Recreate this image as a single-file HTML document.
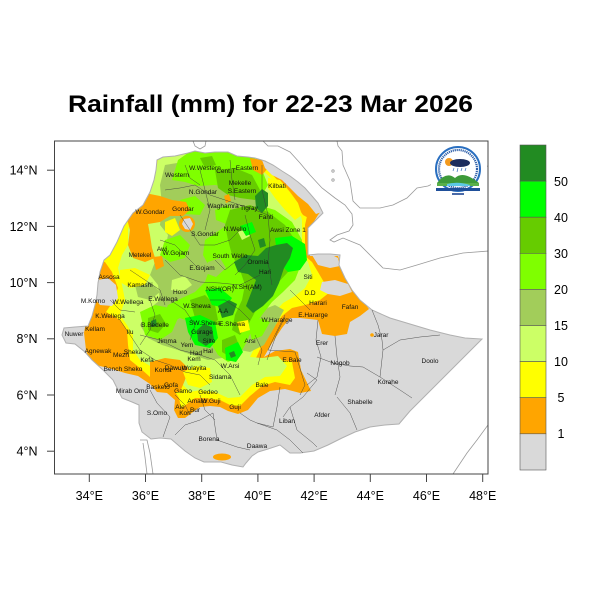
<!DOCTYPE html>
<html><head><meta charset="utf-8"><style>
html,body{margin:0;padding:0;background:#fff;}
svg{display:block;font-family:"Liberation Sans",Arial,sans-serif;}
.zl{font-size:6.5px;fill:#111;text-anchor:middle;}
.ax{font-size:12.5px;fill:#000;}
</style></head><body>
<svg width="600" height="600" viewBox="0 0 600 600" xmlns="http://www.w3.org/2000/svg">
<defs>
<clipPath id="eth"><path d="M157,160 L163,157 175,156 188,153 195,151 205,153 215,152 228,152 237,156 248,157 255,158 265,161 273,165 282,171 290,176 298,182 305,188 312,196 318,203 323,213 316,220 308,228 308,255 318,254 330,254 340,255 339,265 345,278 352,290 360,300 372,310 390,318 410,324 430,330 450,335 465,338 482,339 470,351 455,366 440,381 425,396 410,411 399,424 385,425 370,427 355,432 342,438 328,445 314,451 300,453 290,453 280,445 268,449 258,452 252,456 246,463 243,467 232,465 221,462 204,462 195,458 185,451 171,439 160,438 151,439 142,432 139,423 139,405 132,402 122,398 118,390 113,380 103,370 92,360 85,352 75,344 66,343 62,335 64,328 75,327 88,326 92,316 95,305 97,295 98,283 100,272 104,260 110,255 117,242 124,226 133,213 143,205 150,192 154,180 156,170 Z"/></clipPath>
<clipPath id="frame"><rect x="54.5" y="141" width="433.5" height="333"/></clipPath>
</defs>
<rect width="600" height="600" fill="#fff"/>

<text x="68" y="112" font-size="24" font-weight="bold" textLength="405" lengthAdjust="spacingAndGlyphs" fill="#000">Rainfall (mm) for 22-23 Mar 2026</text>

<!-- other country lines -->
<g clip-path="url(#frame)" fill="none" stroke="#9a9a9a" stroke-width="0.8">
<polyline points="337,141 338,146 342,151 343,165 350,181 353,201 360,208 380,208 393,205 407,198 417,188 428,186 445,178 465,171 488,166"/>
<polyline points="263,141 268,146 278,146 290,152 300,163 310,175 322,188 335,198 345,205 352,214 353,225 349,231 337,235 330,240 334,242 343,238 360,245 373,258 383,268 400,270 417,265 440,258 463,253 489,251"/>
<polyline points="193,141 195,146 200,149 205,146 206,141"/>
<polyline points="140,440 147,440 150,453 153,474"/>
<polyline points="143,443 145,457 147,474"/>
<polyline points="488,425 477,440 467,453 453,474"/>
<circle cx="333" cy="171" r="1.2"/><circle cx="333" cy="180" r="1.2"/>
</g>

<!-- map data -->
<path d="M157,160 L163,157 175,156 188,153 195,151 205,153 215,152 228,152 237,156 248,157 255,158 265,161 273,165 282,171 290,176 298,182 305,188 312,196 318,203 323,213 316,220 308,228 308,255 318,254 330,254 340,255 339,265 345,278 352,290 360,300 372,310 390,318 410,324 430,330 450,335 465,338 482,339 470,351 455,366 440,381 425,396 410,411 399,424 385,425 370,427 355,432 342,438 328,445 314,451 300,453 290,453 280,445 268,449 258,452 252,456 246,463 243,467 232,465 221,462 204,462 195,458 185,451 171,439 160,438 151,439 142,432 139,423 139,405 132,402 122,398 118,390 113,380 103,370 92,360 85,352 75,344 66,343 62,335 64,328 75,327 88,326 92,316 95,305 97,295 98,283 100,272 104,260 110,255 117,242 124,226 133,213 143,205 150,192 154,180 156,170 Z" fill="#D9D9D9"/>
<g clip-path="url(#eth)">
<!-- orange -->
<polygon fill="#FFA500" points="90,150 330,150 330,200 318,215 310,228 310,256 338,256 345,278 352,290 362,300 369,309 360,316 350,322 347,334 335,336 322,334 318,320 300,318 290,318 282,328 272,343 264,357 275,351 290,349 298,352 301,370 311,391 300,393 285,389 270,391 258,398 248,410 238,414 228,411 220,407 210,406 200,407 193,412 185,418 178,418 174,410 175,400 167,393 157,392 150,384 138,376 125,373 112,369 100,366 90,363 86,350 84,333 86,322 92,313 96,303 90,290"/>
<ellipse cx="222" cy="457" rx="9" ry="3.5" fill="#FFA500"/>
<circle cx="372" cy="335" r="1.8" fill="#FFA500"/>
<!-- yellow -->
<polygon fill="#FFFF00" points="90,150 262,150 262,165 270,172 280,183 292,193 300,202 308,212 305,225 305,256 312,262 318,272 325,284 330,292 320,300 305,305 292,308 282,316 272,330 262,345 256,358 265,362 280,360 292,362 295,378 290,385 275,382 262,386 250,396 240,406 230,405 220,400 205,398 195,398 187,404 181,408 179,398 172,387 160,384 150,377 140,368 130,360 128,345 127,330 120,320 106,312 112,303 118,288 112,272 105,262 90,262"/>
<!-- light green -->
<polygon fill="#CCFF66" points="160,150 262,150 262,170 275,182 288,195 298,205 302,220 302,256 308,262 312,275 305,288 295,296 283,303 272,315 264,330 256,345 250,357 262,358 278,356 287,366 280,376 265,377 252,385 240,397 228,398 215,392 200,390 190,392 183,385 175,378 165,374 152,367 140,360 133,350 133,335 127,325 120,315 125,300 122,285 118,268 122,255 128,245 128,230 132,215 140,205 148,190 155,175"/>
<!-- olive -->
<polygon fill="#A2CD5A" points="165,165 195,160 225,160 250,165 258,180 262,200 268,220 272,245 268,270 260,290 250,308 240,325 232,345 222,358 208,360 192,355 178,350 162,345 148,338 140,325 148,310 160,300 158,285 150,275 155,262 165,250 168,235 160,225 162,205 160,185"/>
<polygon fill="#A2CD5A" points="245,318 262,310 275,305 284,310 274,328 264,345 250,352 240,350"/>
<polygon fill="#A2CD5A" points="270,215 288,222 298,232 300,245 290,250 278,240"/>
<polygon fill="#A2CD5A" points="135,285 150,282 160,292 150,300 138,297"/>
<!-- bright green -->
<polygon fill="#7FFF00" points="178,160 195,148 225,148 250,150 262,170 268,185 262,195 248,195 232,188 215,185 198,186 185,182 172,180"/>
<polygon fill="#7FFF00" points="205,240 220,230 240,215 258,205 275,210 292,222 302,240 302,262 295,280 283,292 272,302 262,315 252,330 245,345 238,358 228,362 218,355 212,345 200,330 190,322 180,318 172,322 162,318 168,305 182,298 195,292 205,282 210,268 203,255"/>
<polygon fill="#7FFF00" points="165,240 180,235 190,245 185,258 170,262 160,255"/>
<polygon fill="#7FFF00" points="140,312 155,305 170,308 178,318 172,332 160,340 145,335"/>
<polygon fill="#7FFF00" points="248,325 262,318 270,322 262,336 252,340"/>
<polygon fill="#7FFF00" points="180,200 195,196 205,205 200,215 186,214"/>
<polygon fill="#7FFF00" points="215,210 228,205 235,215 226,224 216,220"/>
<!-- mid green -->
<polygon fill="#66CC00" points="215,170 235,168 252,175 260,190 255,200 240,198 228,195 218,188"/>
<polygon fill="#66CC00" points="230,210 250,205 268,212 285,225 295,240 296,258 288,272 276,285 265,298 255,312 248,325 240,335 232,330 235,315 242,300 245,285 240,270 232,255 228,240 225,225"/>
<polygon fill="#66CC00" points="190,300 205,295 215,305 218,320 210,325 195,318"/>
<polygon fill="#66CC00" points="222,340 235,335 240,348 232,358 222,352"/>
<polygon fill="#66CC00" points="148,318 160,314 166,324 158,333 148,330"/>
<polygon fill="#66CC00" points="200,158 212,156 216,165 205,168"/>
<!-- light patches -->
<polygon fill="#A2CD5A" points="208,262 220,258 226,268 216,277 205,273"/>
<polygon fill="#CCFF66" points="172,280 185,276 192,285 182,292 171,290"/>
<polygon fill="#CCFF66" points="238,232 246,228 250,236 242,240"/>
<!-- pure green -->
<polygon fill="#00FF00" points="275,238 292,236 305,244 307,260 300,270 288,272 278,262"/>
<polygon fill="#00FF00" points="185,318 200,315 215,322 218,338 210,348 195,345 188,332"/>
<polygon fill="#00FF00" points="225,348 238,342 243,352 236,362 226,360"/>
<polygon fill="#00FF00" points="205,290 220,288 232,298 225,308 212,305"/>
<polygon fill="#00FF00" points="240,226 252,222 256,232 246,236"/>
<!-- dark green -->
<polygon fill="#228B22" points="234,262 246,255 258,256 266,248 276,245 287,243 293,248 290,258 284,268 279,283 273,296 263,306 253,313 246,306 251,293 256,280 248,274 238,272"/>
<polygon fill="#228B22" points="255,196 262,189 268,193 268,206 262,213 256,208"/>
<polygon fill="#228B22" points="218,306 229,300 237,304 233,315 222,318"/>
<polygon fill="#228B22" points="197,330 204,324 212,327 214,340 206,346 198,341"/>
<polygon fill="#228B22" points="229,353 234,351 236,356 231,358"/>
<polygon fill="#228B22" points="258,240 264,238 266,246 260,248"/>
<polygon fill="#228B22" points="151,321 156,319 157,326 151,327"/>
<!-- interior orange -->
<polygon fill="#FFA500" points="128,196 145,193 160,196 172,200 186,202 190,210 183,216 170,216 160,222 148,224 150,235 152,248 155,258 145,262 133,258 128,245 130,230 126,215"/>
<ellipse cx="187" cy="224" rx="8" ry="8" fill="#FFA500"/>
<polygon fill="#FFA500" points="285,176 295,183 305,192 315,200 320,212 312,220 303,215 296,205 288,195 282,185"/>
<polygon fill="#FFA500" points="250,158 262,160 268,168 262,175 253,170"/>
<polygon fill="#FFA500" points="224,196 229,194 231,201 226,203"/>
<polygon fill="#FFA500" points="153,257 162,256 164,266 156,270"/>
<polygon fill="#FFA500" points="150,362 165,358 180,360 188,368 185,380 180,392 170,392 160,388 150,380"/>
<!-- interior yellow -->
<polygon fill="#FFFF00" points="268,178 280,180 290,192 298,203 302,215 295,220 285,210 275,198 268,188"/>
<polygon fill="#FFFF00" points="165,222 175,218 180,230 172,236 165,232"/>
<polygon fill="#FFFF00" points="120,270 135,268 150,275 145,285 130,288 120,282"/>
<polygon fill="#FFFF00" points="183,372 195,366 210,368 212,382 200,388 188,385"/>
<polygon fill="#FFFF00" points="237,322 248,320 250,330 240,333"/>
<!-- grey patches -->
<polygon fill="#D9D9D9" points="262,160 273,165 282,171 290,176 298,182 305,188 312,196 318,203 322,212 316,214 308,204 298,196 290,188 282,180 272,175 265,168"/>
<polygon fill="#D9D9D9" points="98,280 108,278 116,285 118,298 112,306 100,305 96,300"/>
<polygon fill="#D9D9D9" points="312,255 330,254 338,258 340,266 330,268 318,265"/>
<polygon fill="#D9D9D9" points="322,282 335,280 348,284 352,292 340,296 328,294 320,290"/>
<polygon fill="#D9D9D9" points="184,219 190,218 193,224 190,230 185,229 182,224"/>
</g>
<path d="M157,160 L163,157 175,156 188,153 195,151 205,153 215,152 228,152 237,156 248,157 255,158 265,161 273,165 282,171 290,176 298,182 305,188 312,196 318,203 323,213 316,220 308,228 308,255 318,254 330,254 340,255 339,265 345,278 352,290 360,300 372,310 390,318 410,324 430,330 450,335 465,338 482,339 470,351 455,366 440,381 425,396 410,411 399,424 385,425 370,427 355,432 342,438 328,445 314,451 300,453 290,453 280,445 268,449 258,452 252,456 246,463 243,467 232,465 221,462 204,462 195,458 185,451 171,439 160,438 151,439 142,432 139,423 139,405 132,402 122,398 118,390 113,380 103,370 92,360 85,352 75,344 66,343 62,335 64,328 75,327 88,326 92,316 95,305 97,295 98,283 100,272 104,260 110,255 117,242 124,226 133,213 143,205 150,192 154,180 156,170 Z" fill="none" stroke="#b0b0b0" stroke-width="1"/>

<!-- admin boundaries -->
<g fill="none" stroke="#3a3a3a" stroke-width="0.5" opacity="0.85">
<polyline points="285,317 277,333 267,360"/>
<polyline points="318,320 316,340 321,357 317,377 307,385"/>
<polyline points="335,336 337,357 340,377 335,395"/>
<polyline points="317,357 333,363 350,366 363,367 380,377 400,390 412,398"/>
<polyline points="372,310 378,325 382,340 383,350 400,340 420,337 440,335"/>
<polyline points="383,350 380,377"/>
<polyline points="307,373 317,380 303,397 290,407 283,417"/>
<polyline points="290,407 297,430 313,443 317,447"/>
<polyline points="337,397 350,413 357,430"/>
<polyline points="213,413 217,440 237,447 250,450"/>
<polyline points="257,423 277,430 290,440 303,453"/>
<polyline points="150,390 157,403 170,417 163,437"/>
<polyline points="240,413 250,420 257,423"/>
<polyline points="280,387 277,407 273,427 257,423"/>
<polyline points="213,413 200,420 185,425 175,435"/>
<polyline points="165,190 180,188 195,185 210,195 225,200 240,205 255,210 268,215"/>
<polyline points="262,165 262,190 268,215 270,240 268,262 272,285"/>
<polyline points="165,260 180,275 200,282 220,283 240,285 260,275"/>
<polyline points="130,270 145,280 160,290 165,305"/>
<polyline points="140,335 160,340 180,350 200,355 215,360 230,375 240,395"/>
<polyline points="285,315 275,335 268,350 295,352 305,385 300,395"/>
<polyline points="200,170 205,190 210,210 205,230"/>
<polyline points="230,160 232,180 235,200"/>
<polyline points="180,215 190,230 200,245 215,245 230,240 240,230"/>
<polyline points="160,240 175,245 190,260 200,270"/>
<polyline points="150,300 155,315 150,330 140,345"/>
<polyline points="170,300 185,310 195,325 190,340"/>
<polyline points="120,320 130,335 140,350 155,360 170,365 185,372 200,375 210,385"/>
<polyline points="200,395 205,410 215,420"/>
<polyline points="175,395 185,405 190,415"/>
<polyline points="245,215 250,235 255,250 245,265 235,275"/>
<polyline points="210,300 225,300 240,310 250,320"/>
<polyline points="290,290 300,300 310,310"/>
<polyline points="110,300 120,310 135,312"/>
<polyline points="185,165 190,178 200,185"/>
<polyline points="215,260 225,270 235,262"/>
<polyline points="255,335 262,350 258,365"/>
</g>

<!-- zone labels -->
<g class="zl">
<text x="205" y="170">W.Western</text><text x="226" y="173">Cent.T</text><text x="247" y="170">Eastern</text>
<text x="177" y="177">Western</text><text x="240" y="185">Mekelle</text><text x="242" y="193">S.Eastern</text>
<text x="203" y="194">N.Gondar</text><text x="277" y="188">Kilbati</text><text x="150" y="214">W.Gondar</text>
<text x="183" y="211">Gondar</text><text x="223" y="208">Waghamra</text><text x="249" y="210">Tigray</text>
<text x="266" y="219">Fanti</text><text x="288" y="232">Awsi Zone 1</text><text x="205" y="236">S.Gondar</text>
<text x="235" y="231">N.Wello</text><text x="140" y="257">Metekel</text><text x="162" y="251">Awi</text>
<text x="176" y="255">W.Gojam</text><text x="230" y="258">South Wello</text><text x="258" y="264">Oromia</text>
<text x="202" y="270">E.Gojam</text><text x="265" y="274">Hari</text><text x="109" y="279">Assosa</text>
<text x="140" y="287">Kamashi</text><text x="180" y="294">Horo</text><text x="220" y="291">NSH(OR)</text>
<text x="247" y="289">N.SH(AM)</text><text x="93" y="303">M.Komo</text><text x="128" y="304">W.Wellega</text>
<text x="163" y="301">E.Wellega</text><text x="197" y="308">W.Shewa</text><text x="110" y="318">K.Wellega</text>
<text x="223" y="313">A.A</text><text x="277" y="322">W.Hararge</text><text x="95" y="331">Kellam</text>
<text x="155" y="327">B.Bedelle</text><text x="205" y="325">SW.Shewa</text><text x="232" y="326">E.Shewa</text>
<text x="74" y="336">Nuwer</text><text x="130" y="334">Ilu</text><text x="202" y="334">Gurage</text>
<text x="167" y="343">Jimma</text><text x="250" y="343">Arsi</text><text x="187" y="347">Yem</text>
<text x="209" y="343">Silte</text><text x="98" y="353">Agnewak</text><text x="133" y="354">Sheka</text>
<text x="121" y="357">Mezh</text><text x="196" y="355">Had</text><text x="208" y="353">Hal</text>
<text x="194" y="361">Kem</text><text x="292" y="362">E.Bale</text><text x="147" y="362">Kefa</text>
<text x="123" y="371">Bench Sheko</text><text x="163" y="372">Konta</text><text x="176" y="370">Dawuro</text>
<text x="194" y="370">Wolayita</text><text x="230" y="368">W.Arsi</text><text x="220" y="379">Sidama</text>
<text x="132" y="393">Mirab Omo</text><text x="158" y="389">Basketo</text><text x="171" y="387">Gofa</text>
<text x="183" y="393">Gamo</text><text x="208" y="394">Gedeo</text><text x="262" y="387">Bale</text>
<text x="180" y="409">Ale</text><text x="197" y="403">Amaro</text><text x="211" y="403">W.Guji</text>
<text x="185" y="415">Kon</text><text x="195" y="412">Bur</text><text x="235" y="409">Guji</text>
<text x="157" y="415">S.Omo</text><text x="287" y="423">Liban</text><text x="322" y="417">Afder</text>
<text x="209" y="441">Borena</text><text x="257" y="448">Daawa</text><text x="322" y="345">Erer</text>
<text x="340" y="365">Nogob</text><text x="388" y="384">Korahe</text><text x="360" y="404">Shabelle</text>
<text x="430" y="363">Doolo</text><text x="381" y="337">Jarar</text><text x="308" y="279">Siti</text>
<text x="310" y="295">D.D</text><text x="318" y="305">Harari</text><text x="350" y="309">Fafan</text>
<text x="313" y="317">E.Hararge</text>
</g>

<!-- logo -->
<g>
<rect x="431" y="146" width="56" height="53" fill="#fff"/>
<circle cx="458" cy="169" r="22" fill="#fff" stroke="#2a6fc0" stroke-width="2"/>
<circle cx="458" cy="169" r="19" fill="none" stroke="#2f5fa8" stroke-width="2.2" stroke-dasharray="1.2,0.8"/>
<circle cx="449" cy="162" r="4" fill="#f39a1e"/>
<ellipse cx="460" cy="163" rx="10" ry="4" fill="#1c2d5e"/>
<g stroke="#3a6fc0" stroke-width="0.7"><line x1="454" y1="168" x2="453" y2="171"/><line x1="458" y1="168" x2="457" y2="172"/><line x1="462" y1="168" x2="461" y2="171"/><line x1="466" y1="168" x2="465" y2="171"/></g>
<path d="M437,183 Q446,171 455,178 Q463,170 479,183 Z" fill="#3d9a3a"/>
<path d="M437,183 L479,183 L479,186 L437,186 Z" fill="#59b04a"/>
<path d="M447,184 Q458,181 470,185 L470,186 L447,186 Z" fill="#5cc8e6"/>
<rect x="436" y="188" width="44" height="3" fill="#1f4f9a"/>
<rect x="452" y="193" width="12" height="2" fill="#4a6aa8"/>
</g>

<!-- frame & axes -->
<rect x="54.5" y="141" width="433.5" height="333" fill="none" stroke="#444" stroke-width="1"/>
<g stroke="#444" stroke-width="1">
<line x1="89.3" y1="474" x2="89.3" y2="482"/><line x1="145.5" y1="474" x2="145.5" y2="482"/>
<line x1="201.7" y1="474" x2="201.7" y2="482"/><line x1="257.9" y1="474" x2="257.9" y2="482"/>
<line x1="314.1" y1="474" x2="314.1" y2="482"/><line x1="370.3" y1="474" x2="370.3" y2="482"/>
<line x1="426.5" y1="474" x2="426.5" y2="482"/><line x1="482.7" y1="474" x2="482.7" y2="482"/>
<line x1="47" y1="170.2" x2="54.5" y2="170.2"/><line x1="47" y1="226.4" x2="54.5" y2="226.4"/>
<line x1="47" y1="282.6" x2="54.5" y2="282.6"/><line x1="47" y1="338.8" x2="54.5" y2="338.8"/>
<line x1="47" y1="395" x2="54.5" y2="395"/><line x1="47" y1="451.2" x2="54.5" y2="451.2"/>
</g>
<g class="ax" text-anchor="middle">
<text x="89.3" y="500">34°E</text><text x="145.5" y="500">36°E</text><text x="201.7" y="500">38°E</text>
<text x="257.9" y="500">40°E</text><text x="314.1" y="500">42°E</text><text x="370.3" y="500">44°E</text>
<text x="426.5" y="500">46°E</text><text x="482.7" y="500">48°E</text>
</g>
<g class="ax" text-anchor="end">
<text x="37.5" y="174.6">14°N</text><text x="37.5" y="230.8">12°N</text><text x="37.5" y="287">10°N</text>
<text x="37.5" y="343.2">8°N</text><text x="37.5" y="399.4">6°N</text><text x="37.5" y="455.6">4°N</text>
</g>

<!-- colorbar -->
<g stroke="#555" stroke-width="0.6">
<rect x="520" y="145" width="26" height="36.1" fill="#228B22"/>
<rect x="520" y="181.1" width="26" height="36.1" fill="#00FF00"/>
<rect x="520" y="217.2" width="26" height="36.1" fill="#66CC00"/>
<rect x="520" y="253.3" width="26" height="36.1" fill="#7FFF00"/>
<rect x="520" y="289.4" width="26" height="36.1" fill="#A2CD5A"/>
<rect x="520" y="325.5" width="26" height="36.1" fill="#CCFF66"/>
<rect x="520" y="361.6" width="26" height="36.1" fill="#FFFF00"/>
<rect x="520" y="397.7" width="26" height="36.1" fill="#FFA500"/>
<rect x="520" y="433.8" width="26" height="36.2" fill="#D9D9D9"/>
</g>
<g class="ax" text-anchor="middle" font-size="13">
<text x="561" y="186">50</text><text x="561" y="222">40</text><text x="561" y="258">30</text>
<text x="561" y="294">20</text><text x="561" y="330">15</text><text x="561" y="366">10</text>
<text x="561" y="402">5</text><text x="561" y="438">1</text>
</g>
</svg>
</body></html>
